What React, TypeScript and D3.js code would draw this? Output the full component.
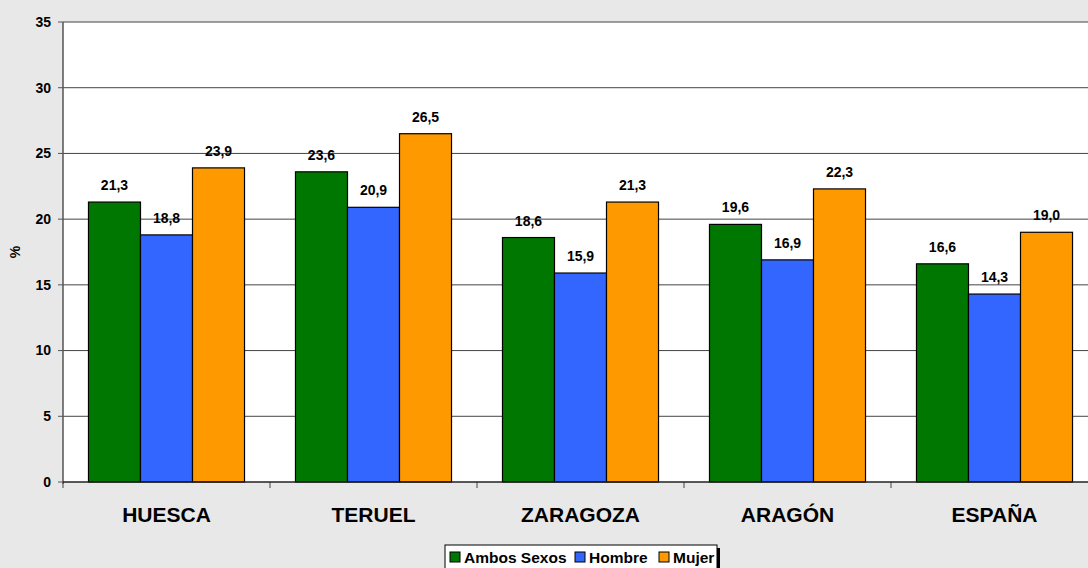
import React from 'react';
import * as d3 from 'd3';

const categories = ['HUESCA', 'TERUEL', 'ZARAGOZA', 'ARAGÓN', 'ESPAÑA'];
const seriesNames = ['Ambos Sexos', 'Hombre', 'Mujer'];
const ambos = [21.3, 23.6, 18.6, 19.6, 16.6];
const hombre = [18.8, 20.9, 15.9, 16.9, 14.3];
const mujer = [23.9, 26.5, 21.3, 22.3, 19.0];
const yTicks = [0, 5, 10, 15, 20, 25, 30, 35];

const colors = ['#007700', '#3366ff', '#ff9900'];
const W = 1088;
const H = 568;
const font = 'Arial, "Liberation Sans", sans-serif';

export default function App() {
  const left = 63, top = 22, bottom = 482;
  const band = 207;
  const x = d3.scaleBand().domain(categories).range([left, left + band * categories.length]).paddingInner(0).paddingOuter(0);
  const inner = d3.scaleBand().domain(seriesNames).range([0, band]).paddingInner(0).paddingOuter(0.49);
  const y = d3.scaleLinear().domain([0, 35]).range([bottom, top]);
  const series = [ambos, hombre, mujer];
  const right = left + band * categories.length;

  return (
    <svg width={W} height={H} style={{ position: 'fixed', left: 0, top: 0, background: '#e8e8e8' }} fontFamily={font}>
      <rect x={left} y={top} width={right - left} height={bottom - top} fill="#ffffff" />
      {yTicks.map(t => (
        <g key={t}>
          {t > 0 && <line x1={left} x2={right} y1={y(t)} y2={y(t)} stroke="#444" strokeWidth={1} />}
          <line x1={left - 5} x2={left} y1={y(t)} y2={y(t)} stroke="#555" />
          <text x={left - 12} y={y(t)} dy="0.35em" textAnchor="end" fontSize={14} fontWeight="bold">{t}</text>
        </g>
      ))}
      {categories.map((c, i) => (
        <g key={c}>
          {series.map((s, j) => {
            const bx = x(c)! + inner(seriesNames[j])!;
            return (
              <g key={j}>
                <rect x={bx} y={y(s[i])} width={inner.bandwidth()} height={bottom - y(s[i])} fill={colors[j]} stroke="#000" strokeWidth={1.2} />
                <text x={bx + inner.bandwidth() / 2} y={y(s[i]) - 12} textAnchor="middle" fontSize={14} fontWeight="bold">
                  {s[i].toFixed(1).replace('.', ',')}
                </text>
              </g>
            );
          })}
          <text x={x(c)! + band / 2} y={522} textAnchor="middle" fontSize={21} fontWeight="bold">{c}</text>
        </g>
      ))}
      {d3.range(categories.length + 1).map(k => (
        <line key={k} x1={left + k * band} x2={left + k * band} y1={bottom} y2={bottom + 6} stroke="#444" />
      ))}
      <line x1={left} x2={left} y1={top} y2={bottom + 2} stroke="#555" strokeWidth={1.5} />
      <line x1={left} x2={right} y1={bottom} y2={bottom} stroke="#222" strokeWidth={1.5} />
      <text transform={`translate(20,${(top + bottom) / 2}) rotate(-90)`} textAnchor="middle" fontSize={14} fontWeight="bold">%</text>
      <g>
        <rect x={448} y={548} width={272} height={30} fill="#000" />
        <rect x={445} y={545} width={272} height={30} fill="#fff" stroke="#000" strokeWidth={1} />
        {[
          { n: seriesNames[0], x: 450 },
          { n: seriesNames[1], x: 575 },
          { n: seriesNames[2], x: 659 },
        ].map((l, j) => (
          <g key={l.n}>
            <rect x={l.x} y={552} width={10} height={10} fill={colors[j]} stroke="#000" />
            <text x={l.x + 14} y={563} fontSize={15.5} fontWeight="bold">{l.n}</text>
          </g>
        ))}
      </g>
    </svg>
  );
}
